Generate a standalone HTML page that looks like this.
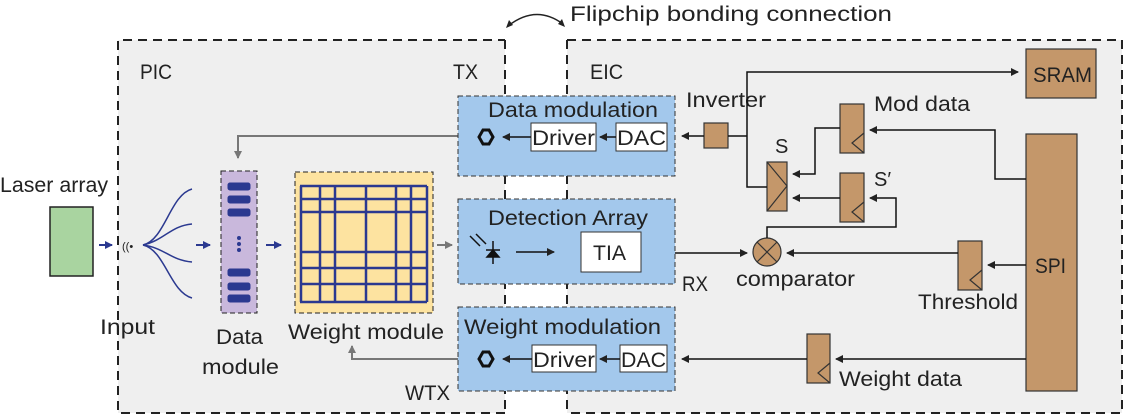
<!DOCTYPE html>
<html><head><meta charset="utf-8"><style>body{margin:0;background:#fff}svg{display:block}text{font-family:"Liberation Sans",sans-serif;fill:#222}</style></head><body>
<svg width="1126" height="416" viewBox="0 0 1126 416" xmlns="http://www.w3.org/2000/svg">
<defs>
<marker id="a" markerWidth="8" markerHeight="8" refX="7" refY="4" orient="auto" markerUnits="userSpaceOnUse"><path d="M0,0L8,4L0,8z" fill="#222"/></marker>
<marker id="b" markerWidth="8" markerHeight="8" refX="7" refY="4" orient="auto" markerUnits="userSpaceOnUse"><path d="M0,0L8,4L0,8z" fill="#2b3990"/></marker>
<marker id="g" markerWidth="8" markerHeight="8" refX="7" refY="4" orient="auto" markerUnits="userSpaceOnUse"><path d="M0,0L8,4L0,8z" fill="#777"/></marker>
</defs>
<rect x="118" y="40" width="387" height="373" fill="#efefef"/>
<rect x="567" y="40" width="555" height="373" fill="#efefef"/>
<path d="M505,413H118V40H505M567,40H1122V413H567" fill="none" stroke="#222" stroke-width="2" stroke-dasharray="9,6"/>
<line x1="505" y1="40" x2="505" y2="413" stroke="#222" stroke-width="2" stroke-dasharray="9,6"/>
<line x1="567" y1="40" x2="567" y2="413" stroke="#222" stroke-width="2" stroke-dasharray="9,6"/>
<g font-size="21" lengthAdjust="spacingAndGlyphs">
<text x="570" y="21" textLength="322" lengthAdjust="spacingAndGlyphs">Flipchip bonding connection</text>
<text x="140" y="79" textLength="32" lengthAdjust="spacingAndGlyphs">PIC</text>
<text x="590" y="79" textLength="33" lengthAdjust="spacingAndGlyphs">EIC</text>
<text x="453" y="79" textLength="25" lengthAdjust="spacingAndGlyphs">TX</text>
<text x="0" y="192" textLength="108" lengthAdjust="spacingAndGlyphs">Laser array</text>
<text x="100" y="334" textLength="55" lengthAdjust="spacingAndGlyphs">Input</text>
<text x="216" y="344" textLength="47" lengthAdjust="spacingAndGlyphs">Data</text>
<text x="202" y="374" textLength="77" lengthAdjust="spacingAndGlyphs">module</text>
<text x="288" y="339" textLength="156" lengthAdjust="spacingAndGlyphs">Weight module</text>
<text x="405" y="400" textLength="45" lengthAdjust="spacingAndGlyphs">WTX</text>
<text x="682" y="291" textLength="26" lengthAdjust="spacingAndGlyphs">RX</text>
</g>
<path d="M508,26Q536,4 563,24" fill="none" stroke="#222" stroke-width="1.5"/>
<path d="M506,28l3,-8l4,5z M565,27l-7,-3l4,-5z" fill="#222"/>
<!-- left -->
<rect x="50" y="207" width="43" height="69" fill="#a9d4a0" stroke="#222" stroke-width="1.5"/>
<line x1="99" y1="245" x2="112" y2="245" stroke="#2b3990" stroke-width="2" marker-end="url(#b)"/>
<text x="122" y="250" font-size="11">((•</text>
<g fill="none" stroke="#2b3990" stroke-width="1.5">
<path d="M143,245C165,240 170,195 192,189"/><path d="M143,245C165,240 170,226 192,224"/><path d="M143,245C165,248 170,260 192,262"/><path d="M143,245C165,250 170,292 192,298"/>
</g>
<line x1="196" y1="245" x2="210" y2="245" stroke="#2b3990" stroke-width="2" marker-end="url(#b)"/>
<rect x="221" y="171" width="36" height="142" fill="#c9b8dc" stroke="#222" stroke-dasharray="5,3"/>
<g fill="#2b3990" stroke="#2b3990"><rect x="228" y="183" width="22" height="7" rx="2"/><rect x="228" y="196" width="22" height="7" rx="2"/><rect x="228" y="209" width="22" height="7" rx="2"/><rect x="228" y="269" width="22" height="7" rx="2"/><rect x="228" y="283" width="22" height="7" rx="2"/><rect x="228" y="295" width="22" height="7" rx="2"/>
<circle cx="239" cy="238" r="1.5"/><circle cx="239" cy="244" r="1.5"/><circle cx="239" cy="250" r="1.5"/></g>
<line x1="266" y1="245" x2="281" y2="245" stroke="#2b3990" stroke-width="2" marker-end="url(#b)"/>
<rect x="295" y="172" width="138" height="141" fill="#fde3a0" stroke="#222" stroke-dasharray="5,3"/>
<g stroke="#2b3990" stroke-width="2.5"><line x1="300" y1="186" x2="427" y2="186"/><line x1="300" y1="199" x2="427" y2="199"/><line x1="300" y1="212" x2="427" y2="212"/><line x1="300" y1="252" x2="427" y2="252"/><line x1="300" y1="268" x2="427" y2="268"/><line x1="300" y1="284" x2="427" y2="284"/><line x1="300" y1="302" x2="427" y2="302"/>
<line x1="301" y1="186" x2="301" y2="302"/><line x1="320" y1="186" x2="320" y2="302"/><line x1="335" y1="186" x2="335" y2="302"/><line x1="366" y1="186" x2="366" y2="302"/><line x1="396" y1="186" x2="396" y2="302"/><line x1="411" y1="186" x2="411" y2="302"/><line x1="427" y1="186" x2="427" y2="302"/></g>
<line x1="437" y1="245" x2="452" y2="245" stroke="#777" stroke-width="2" marker-end="url(#g)"/>
<path d="M458,136H238V158" fill="none" stroke="#777" stroke-width="2" marker-end="url(#g)"/>
<path d="M458,359H352V346" fill="none" stroke="#777" stroke-width="2" marker-end="url(#g)"/>
<!-- blue boxes -->
<g fill="#a3c8ec" stroke="#333" stroke-dasharray="5,3"><rect x="458" y="96" width="217" height="80"/><rect x="458" y="199" width="217" height="85"/><rect x="458" y="307" width="217" height="84"/></g>
<g fill="#fff" stroke="#333"><rect x="531" y="123" width="65" height="28"/><rect x="616" y="123" width="51" height="28"/><rect x="581" y="232" width="60" height="40"/><rect x="532" y="345" width="64" height="27"/><rect x="620" y="345" width="47" height="27"/></g>
<g font-size="21">
<text x="488" y="117" textLength="170" lengthAdjust="spacingAndGlyphs">Data modulation</text>
<text x="488" y="225" textLength="160" lengthAdjust="spacingAndGlyphs">Detection Array</text>
<text x="464" y="334" textLength="197" lengthAdjust="spacingAndGlyphs">Weight modulation</text>
<text x="532" y="145" textLength="63" lengthAdjust="spacingAndGlyphs">Driver</text>
<text x="617" y="145" textLength="49" lengthAdjust="spacingAndGlyphs">DAC</text>
<text x="593" y="260" textLength="33" lengthAdjust="spacingAndGlyphs">TIA</text>
<text x="533" y="367" textLength="62" lengthAdjust="spacingAndGlyphs">Driver</text>
<text x="621" y="367" textLength="45" lengthAdjust="spacingAndGlyphs">DAC</text>
</g>
<g fill="none" stroke="#111" stroke-width="3"><path d="M479,137l4,-7h6l4,7l-4,7h-6z"/><path d="M479,359l4,-7h6l4,7l-4,7h-6z"/></g>
<g stroke="#111" stroke-width="1.5" marker-end="url(#a)"><line x1="531" y1="137" x2="503" y2="137"/><line x1="616" y1="137" x2="600" y2="137"/><line x1="532" y1="359" x2="503" y2="359"/><line x1="620" y1="359" x2="600" y2="359"/><line x1="516" y1="252" x2="554" y2="252"/></g>
<g stroke="#111" stroke-width="1.5"><line x1="493" y1="241" x2="493" y2="264"/><line x1="486" y1="250" x2="500" y2="250"/><path d="M487,257h12l-6,-7z" fill="#111"/><line x1="470" y1="236" x2="480" y2="246"/><line x1="476" y1="234" x2="486" y2="244"/></g>
<!-- EIC components -->
<g fill="#c4976a" stroke="#333" stroke-width="1.2"><rect x="1026" y="49" width="70" height="49"/><rect x="1026" y="134" width="51" height="257"/><rect x="704" y="123" width="24" height="25"/><rect x="840" y="104" width="24" height="49"/><rect x="767" y="162" width="20" height="49"/><rect x="840" y="173" width="24" height="49"/><rect x="958" y="241" width="24" height="49"/><rect x="807" y="334" width="23" height="49"/><circle cx="767" cy="252" r="14"/></g>
<g fill="none" stroke="#333" stroke-width="1.2"><path d="M864,133l-12,10l12,10M864,202l-12,10l12,10M982,270l-12,10l12,10M830,363l-12,10l12,10M767,162l20,24l-20,25M757,242l20,20M777,242l-20,20"/></g>
<g font-size="21">
<text x="1033" y="82" textLength="59" lengthAdjust="spacingAndGlyphs">SRAM</text>
<text x="1035" y="273" textLength="31" lengthAdjust="spacingAndGlyphs">SPI</text>
<text x="686" y="107" textLength="80" lengthAdjust="spacingAndGlyphs">Inverter</text>
<text x="874" y="111" textLength="96" lengthAdjust="spacingAndGlyphs">Mod data</text>
<text x="775" y="153" font-size="20">S</text>
<text x="874" y="186" font-size="20">S′</text>
<text x="736" y="286" textLength="119" lengthAdjust="spacingAndGlyphs">comparator</text>
<text x="918" y="309" textLength="100" lengthAdjust="spacingAndGlyphs">Threshold</text>
<text x="839" y="386" textLength="123" lengthAdjust="spacingAndGlyphs">Weight data</text>
</g>
<g fill="none" stroke="#111" stroke-width="1.5">
<path d="M767,187H747V72H1018" marker-end="url(#a)"/>
<path d="M747,136H728"/>
<path d="M704,136H682" marker-end="url(#a)"/>
<path d="M840,128H815V174H793" marker-end="url(#a)"/>
<path d="M840,198H793" marker-end="url(#a)"/>
<path d="M1026,179H995V130H870" marker-end="url(#a)"/>
<path d="M767,238V227H896V198H870" marker-end="url(#a)"/>
<path d="M958,253H787" marker-end="url(#a)"/>
<path d="M675,253H747" marker-end="url(#a)"/>
<path d="M1026,265H988" marker-end="url(#a)"/>
<path d="M1026,359H836" marker-end="url(#a)"/>
<path d="M807,359H682" marker-end="url(#a)"/>
</g>
</svg>
</body></html>
